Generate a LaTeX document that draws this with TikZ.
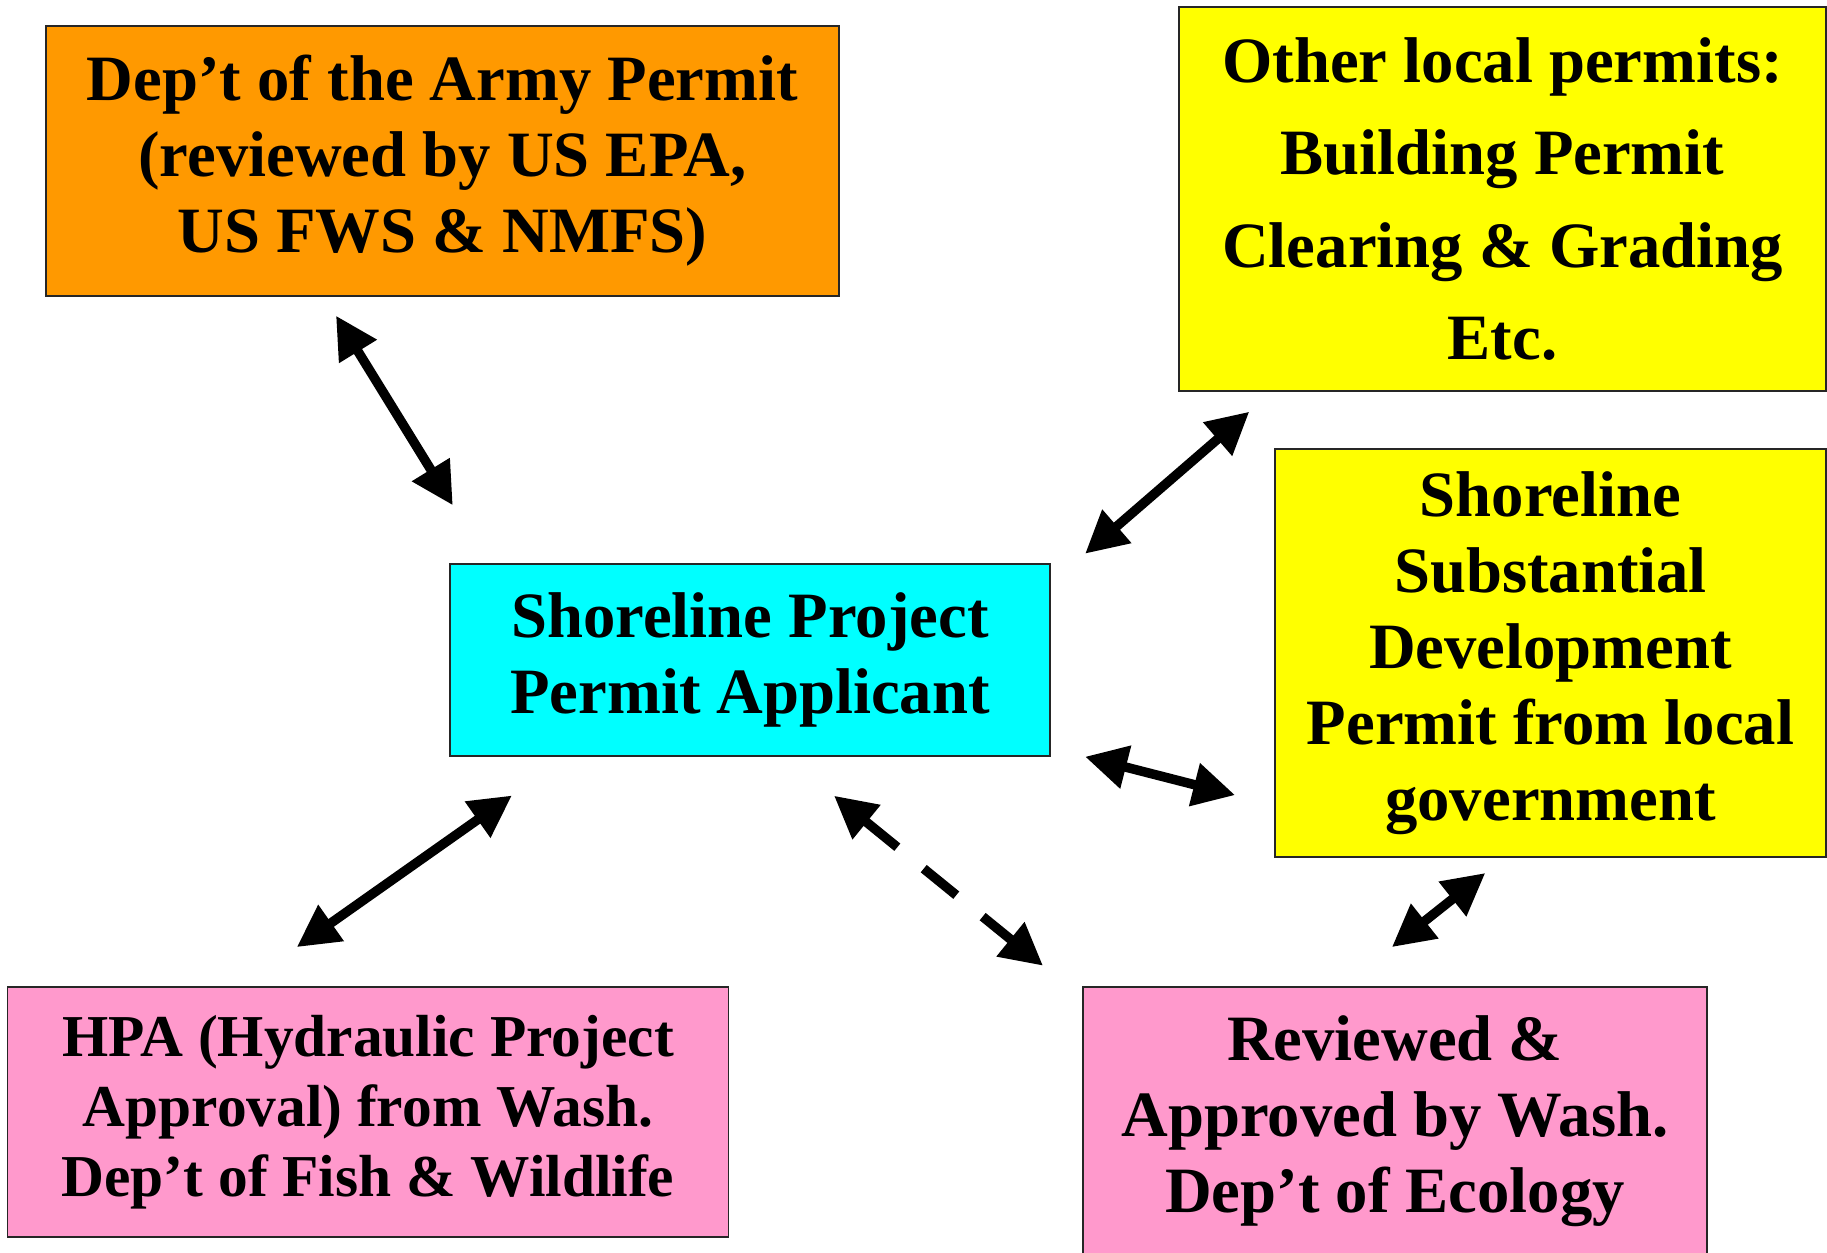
\documentclass[tikz,border=0pt]{standalone}
\usepackage{fontspec}
\setmainfont{Liberation Serif}
\usetikzlibrary{arrows.meta}

\definecolor{armyorange}{RGB}{255,153,0}
\definecolor{localyellow}{RGB}{255,255,0}
\definecolor{applicantcyan}{RGB}{0,255,255}
\definecolor{statepink}{RGB}{255,153,204}

\begin{document}
\begin{tikzpicture}[
    box/.style={draw=black!85, line width=0.4pt, rectangle, align=center, inner sep=0pt,
                font=\fontsize{18.4}{21.6}\selectfont\bfseries},
    link/.style={line width=2.7pt,
                 {Triangle[length=4.2mm,width=4.2mm]}-{Triangle[length=4.2mm,width=4.2mm]}}
]
    \clip (0, 0) rectangle (18.27, -12.53);

    \node [box, fill=armyorange, minimum width=7.93cm, minimum height=2.70cm] (army) at (4.425, -1.61)
          {Dep’t of the Army Permit\\(reviewed by US EPA,\\US FWS \& NMFS)};
    \node [box, fill=localyellow, minimum width=6.47cm, minimum height=3.84cm,
           font=\fontsize{18.4}{26.2}\selectfont\bfseries] (other) at (15.025, -1.99)
          {Other local permits:\\Building Permit\\Clearing \& Grading\\Etc.};
    \node [box, fill=applicantcyan, minimum width=6.00cm, minimum height=1.92cm] (applicant) at (7.50, -6.60)
          {Shoreline Project\\Permit Applicant};
    \node [box, fill=localyellow, minimum width=5.51cm, minimum height=4.08cm] (sdp) at (15.505, -6.53)
          {Shoreline\\Substantial\\Development\\Permit from local\\government};
    \node [box, fill=statepink, minimum width=7.21cm, minimum height=2.50cm,
           font=\fontsize{16.9}{19.9}\selectfont\bfseries] (hpa) at (3.68, -11.12)
          {HPA (Hydraulic Project\\Approval) from Wash.\\Dep’t of Fish \& Wildlife};
    \node [box, fill=statepink, minimum width=6.24cm, minimum height=2.69cm] (ecology) at (13.95, -11.215)
          {Reviewed \&\\Approved by Wash.\\Dep’t of Ecology};

    \draw [link] ([shift={(-1.065, -0.19)}]army.south) -- ([shift={(0.035, 0.58)}]applicant.north west);
    \draw [link] ([shift={(0.344, 0.096)}]applicant.north east) -- ([shift={(0.71, -0.20)}]other.south west);
    \draw [link] ([shift={(0.344, 0)}]applicant.south east) -- ([shift={(-0.392, 0.626)}]sdp.south west);
    \draw [link] ([shift={(-0.652, -0.153)}]sdp.south) -- ([shift={(-0.031, 0.392)}]ecology.north);
    \draw [link, dash pattern=on 0.42cm off 0.34cm] ([shift={(0.84, -0.39)}]applicant.south)
          -- ([shift={(-0.393, 0.206)}]ecology.north west);
    \draw [link] ([shift={(0.626, -0.388)}]applicant.south west) -- ([shift={(-0.712, 0.392)}]hpa.north);

\end{tikzpicture}
\end{document}
